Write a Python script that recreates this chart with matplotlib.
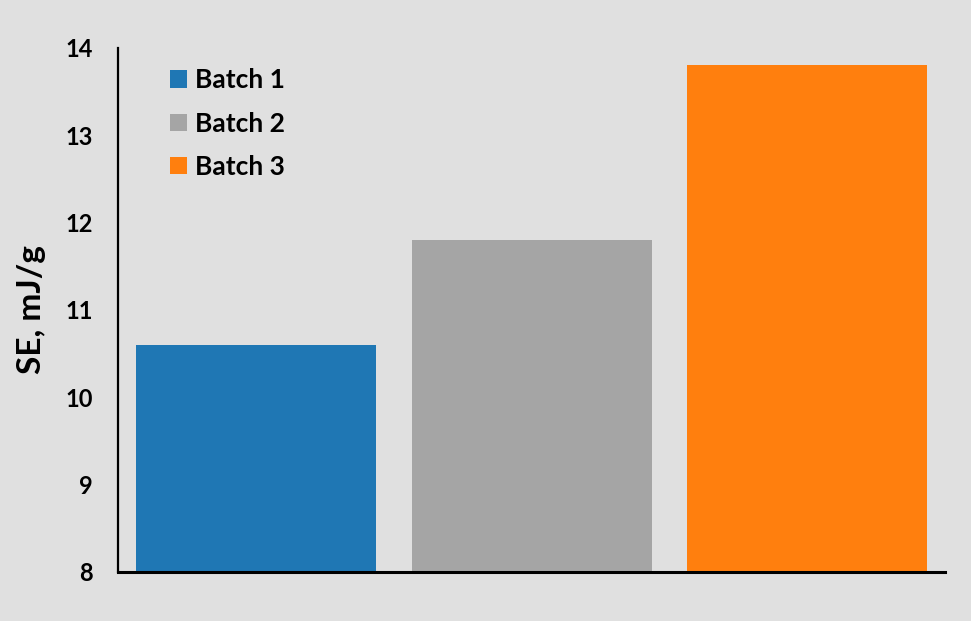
import matplotlib.pyplot as plt

batches = ["Batch 1", "Batch 2", "Batch 3"]
se_values = [10.6, 11.8, 13.8]
colors = ["#1f77b4", "#a5a5a5", "#ff7f0e"]

plt.rcParams['font.family'] = ['Lato', 'DejaVu Sans']

fig = plt.figure(figsize=(9.71, 6.21), dpi=100)
fig.patch.set_facecolor("#e0e0e0")
ax = fig.add_axes([0.1215, 0.079, 0.852, 0.844])
ax.set_facecolor("#e0e0e0")

for i, (name, val, c) in enumerate(zip(batches, se_values, colors)):
    ax.bar(i, val - 8, bottom=8, width=0.87, color=c, label=name)

ax.set_xlim(-0.5, 2.5)
ax.set_ylim(8, 14)
ax.set_yticks(range(8, 15))
ax.set_xticks([])
ax.tick_params(axis='y', length=0, labelsize=17, pad=18)
for lbl in ax.get_yticklabels():
    lbl.set_fontweight("bold")

ax.spines['top'].set_visible(False)
ax.spines['right'].set_visible(False)
ax.spines['left'].set_linewidth(1.6)
ax.spines['bottom'].set_linewidth(2.2)

ax.set_ylabel("SE, mJ/g", fontsize=24, fontweight="bold", labelpad=14)

leg = ax.legend(loc="upper left", bbox_to_anchor=(0.034, 1.006), frameon=False,
                prop={'size': 19, 'weight': 'bold'}, handlelength=0.65,
                handleheight=0.65, handletextpad=0.3, labelspacing=0.73)

fig.savefig("out.png", dpi=100, facecolor=fig.get_facecolor())
